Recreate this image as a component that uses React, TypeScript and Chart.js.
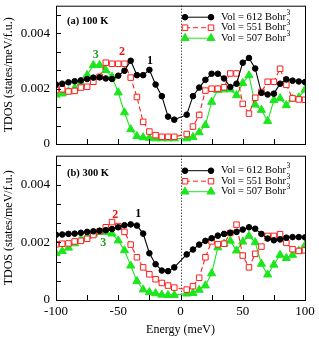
import React, { useEffect, useRef } from 'react';
import { Chart, registerables } from 'chart.js';

Chart.register(...registerables);

const FONT = '"Liberation Serif", "Times New Roman", Times, serif';

// ---- data ----
const energies = [
  -100, -95, -90, -85, -80, -75, -70, -65, -60, -55, -50, -45, -40, -35, -30, -25, -20, -15, -10, -5,
  5, 10, 15, 20, 25, 30, 35, 40, 45, 50, 55, 60, 65, 70, 75, 80, 85, 90, 95, 100,
];

// (a) 100 K
const tdos100K_612 = [
  0.00215, 0.00218, 0.00223, 0.00227, 0.0023, 0.00235, 0.0024, 0.00241, 0.00237, 0.00235,
  0.00247, 0.00265, 0.00301, 0.00249, 0.00249, 0.00268, 0.00215, 0.00173, 0.00099, 0.00088,
  0.00106, 0.00173, 0.00204, 0.00232, 0.00254, 0.00254, 0.00237, 0.00206, 0.00218, 0.00294,
  0.00311, 0.00273, 0.00185, 0.00179, 0.00182, 0.00218, 0.00234, 0.00229, 0.00226, 0.00224,
];
const tdos100K_551 = [
  0.00195, 0.00198, 0.0019, 0.00192, 0.00204, 0.00207, 0.00225, 0.00243, 0.00294, 0.0029,
  0.0029, 0.0029, 0.0024, 0.0017, 0.0008, 0.00045, 0.00032, 0.00026, 0.00026, 0.00026,
  0.00036, 0.00063, 0.00105, 0.00193, 0.002, 0.002, 0.00205, 0.00255, 0.00255, 0.00145,
  0.0011, 0.00167, 0.00188, 0.00225, 0.00225, 0.00272, 0.00214, 0.00165, 0.00161, 0.0016,
];
const tdos100K_507 = [
  0.00178, 0.00182, 0.0019, 0.00202, 0.0022, 0.00249, 0.00285, 0.00285, 0.00267, 0.00243,
  0.00186, 0.00114, 0.00053, 0.00028, 0.00024, 0.00022, 0.0002, 0.0002, 0.0002, 0.0002,
  0.0002, 0.00025, 0.00042, 0.00068, 0.00152, 0.00195, 0.00197, 0.00197, 0.00176, 0.0022,
  0.00248, 0.00142, 0.00123, 0.00083, 0.00158, 0.00165, 0.0014, 0.00163, 0.00168, 0.00196,
];

// (b) 300 K
const tdos300K_612 = [
  0.00226, 0.00227, 0.00229, 0.0023, 0.00233, 0.00236, 0.00238, 0.0024, 0.00242, 0.00246,
  0.00252, 0.00259, 0.00262, 0.00258, 0.0023, 0.00162, 0.00124, 0.00102, 0.001, 0.00113,
  0.00158, 0.00175, 0.00192, 0.00205, 0.00214, 0.00223, 0.00229, 0.00233, 0.00236, 0.00244,
  0.00252, 0.00247, 0.00229, 0.00213, 0.00207, 0.0021, 0.00216, 0.00218, 0.00218, 0.00217,
];
const tdos300K_551 = [
  0.00193, 0.00195, 0.00196, 0.00203, 0.00205, 0.00212, 0.00225, 0.00238, 0.00252, 0.0027,
  0.00256, 0.00236, 0.00192, 0.00148, 0.00113, 0.00089, 0.00072, 0.00059, 0.0005, 0.00043,
  0.00036, 0.00048, 0.00077, 0.00148, 0.00203, 0.00193, 0.00195, 0.00232, 0.00261, 0.00154,
  0.00113, 0.0016, 0.00185, 0.00222, 0.00222, 0.00228, 0.00198, 0.00176, 0.0017, 0.00172,
];
const tdos300K_507 = [
  0.00162, 0.00169, 0.00181, 0.00196, 0.0021, 0.00221, 0.00229, 0.00235, 0.00235, 0.0023,
  0.00206, 0.00172, 0.00119, 0.00065, 0.00036, 0.00027, 0.00023, 0.00018, 0.00017, 0.00017,
  0.00022, 0.00024, 0.00035, 0.0005, 0.00092, 0.00182, 0.00195, 0.00205, 0.00171, 0.00202,
  0.00222, 0.002, 0.00125, 0.00088, 0.00122, 0.00156, 0.00145, 0.00156, 0.0017, 0.00189,
];

const seriesLabels = ['Vol = 612 Bohr', 'Vol = 551 Bohr', 'Vol = 507 Bohr'];
const seriesSup = ['3', '3', '3'];

// tick marks (inward) and labelled ticks
const xTickMarks = [-100, -75, -50, -25, 0, 25, 50, 75, 100];
const yTickMarks = [0, 0.0006667, 0.0013333, 0.002, 0.0026667, 0.0033333, 0.004, 0.0046667];
const xLabelStep = 50;
const yLabelStep = 0.002;

// curve number annotations (text, energy, tdos)
const numTextA = ['3', '2', '1'];
const numXA = [-68, -47, -24.5];
const numYA = [0.00321, 0.00332, 0.003];
const numTextB = ['2', '1', '3'];
const numXB = [-52.5, -34, -62];
const numYB = [0.00296, 0.003, 0.00198];

// ---- styles ----
const styles = [
  { color: '#000000', fill: '#000000', pointStyle: 'circle', radius: 2.8, dash: [] as number[] },
  { color: '#ff1f1f', fill: '#ffffff', pointStyle: 'rect', radius: 3.9, dash: [5, 3] },
  { color: '#1ee61e', fill: '#1ee61e', pointStyle: 'triangle', radius: 4.7, dash: [] as number[] },
];
const numColors = ['#000000', '#ee1111', '#22a022'];

type Panel = {
  title: string;
  series: number[][];
  numText: string[];
  numX: number[];
  numY: number[];
  numColorIdx: number[];
  showX: boolean;
  height: number;
  padTop: number;
  xAxisH: number;
  legendRows: number[];
  titleDy: number;
};

function drawMarker(ctx: CanvasRenderingContext2D, s: any, x: number, y: number) {
  ctx.save();
  ctx.setLineDash([]);
  ctx.lineWidth = 1;
  ctx.strokeStyle = s.color;
  ctx.fillStyle = s.fill;
  ctx.beginPath();
  const r = s.radius;
  if (s.pointStyle === 'circle') {
    ctx.arc(x, y, r, 0, Math.PI * 2);
  } else if (s.pointStyle === 'rect') {
    const h = r * Math.SQRT1_2;
    ctx.rect(x - h, y - h, 2 * h, 2 * h);
  } else {
    ctx.moveTo(x, y - r);
    ctx.lineTo(x - r * 0.866, y + r * 0.5);
    ctx.lineTo(x + r * 0.866, y + r * 0.5);
    ctx.closePath();
  }
  ctx.fill();
  ctx.stroke();
  ctx.restore();
}

function makeDecor(p: Panel) {
  return {
    id: 'decor',
    beforeDatasetsDraw(chart: any) {
      const { ctx, chartArea: a, scales } = chart;
      const x0 = Math.round(scales.x.getPixelForValue(0)) + 0.5;
      ctx.save();
      ctx.strokeStyle = '#000';
      ctx.lineWidth = 1;
      ctx.setLineDash([1, 2]);
      ctx.beginPath();
      ctx.moveTo(x0, a.top);
      ctx.lineTo(x0, a.bottom);
      ctx.stroke();
      ctx.restore();
    },
    afterDraw(chart: any) {
      const { ctx, chartArea: a, scales } = chart;
      ctx.save();
      // frame
      ctx.strokeStyle = '#000';
      ctx.lineWidth = 1;
      ctx.setLineDash([]);
      ctx.strokeRect(a.left + 0.5, a.top + 0.5, a.right - a.left, a.bottom - a.top);
      // inward ticks
      ctx.beginPath();
      xTickMarks.forEach((v) => {
        const px = Math.round(scales.x.getPixelForValue(v)) + 0.5;
        ctx.moveTo(px, a.bottom);
        ctx.lineTo(px, a.bottom - 5);
      });
      yTickMarks.forEach((v) => {
        const py = Math.round(scales.y.getPixelForValue(v)) + 0.5;
        ctx.moveTo(a.left, py);
        ctx.lineTo(a.left + 5, py);
      });
      ctx.stroke();
      // panel title
      ctx.fillStyle = '#000';
      ctx.font = 'bold 10.5px ' + FONT;
      ctx.textAlign = 'left';
      ctx.textBaseline = 'middle';
      ctx.fillText(p.title, a.left + 11, a.top + p.titleDy);
      // curve numbers
      ctx.font = 'bold 12px ' + FONT;
      ctx.textAlign = 'center';
      p.numText.forEach((t, i) => {
        ctx.fillStyle = numColors[p.numColorIdx[i]];
        ctx.fillText(t, scales.x.getPixelForValue(p.numX[i]), scales.y.getPixelForValue(p.numY[i]));
      });
      // legend
      const lx1 = a.left + 129;
      const lx2 = a.left + 155;
      const tx = a.left + 165;
      chart.data.datasets.forEach((ds: any, i: number) => {
        const s = styles[i];
        const y = a.top + p.legendRows[i];
        ctx.save();
        ctx.strokeStyle = s.color;
        ctx.lineWidth = 1;
        ctx.setLineDash(s.dash);
        ctx.beginPath();
        ctx.moveTo(lx1, y);
        ctx.lineTo(lx2, y);
        ctx.stroke();
        ctx.restore();
        drawMarker(ctx, s, lx1, y);
        drawMarker(ctx, s, lx2, y);
        ctx.fillStyle = '#000';
        ctx.textAlign = 'left';
        ctx.textBaseline = 'middle';
        ctx.font = '10.5px ' + FONT;
        ctx.fillText(ds.label, tx, y);
        const w = ctx.measureText(ds.label).width;
        ctx.font = '7.5px ' + FONT;
        ctx.fillText(seriesSup[i], tx + w + 0.5, y - 4.5);
      });
      ctx.restore();
    },
  };
}

function buildConfig(p: Panel): any {
  const datasets = seriesLabels.map((lab, i) => ({
    label: lab,
    data: energies.map((e, j) => ({ x: e, y: p.series[i][j] })),
    borderColor: styles[i].color,
    backgroundColor: styles[i].fill,
    borderWidth: 1.1,
    borderDash: styles[i].dash,
    pointStyle: styles[i].pointStyle,
    pointRadius: styles[i].radius,
    pointBorderWidth: 1,
    pointBorderColor: styles[i].color,
    pointBackgroundColor: styles[i].fill,
    tension: 0,
    fill: false,
    clip: 0,
  }));
  return {
    type: 'line',
    data: { datasets },
    options: {
      animation: false,
      responsive: false,
      maintainAspectRatio: false,
      devicePixelRatio: 1,
      layout: { padding: { top: p.padTop, right: 14, bottom: 0, left: 0 } },
      plugins: { legend: { display: false }, tooltip: { enabled: false } },
      scales: {
        x: {
          type: 'linear',
          min: -100,
          max: 100,
          ticks: {
            stepSize: xLabelStep,
            display: p.showX,
            color: '#000',
            font: { family: FONT, size: 13 },
            padding: 4,
            maxRotation: 0,
            autoSkip: false,
            callback: (v: number) => String(v),
          },
          grid: { display: false, drawTicks: false },
          border: { display: false },
          title: {
            display: p.showX,
            text: 'Energy (meV)',
            color: '#000',
            font: { family: FONT, size: 12 },
            padding: { top: 0, bottom: 0 },
          },
          afterFit: (s: any) => {
            s.height = p.xAxisH;
            s.paddingLeft = 0;
            s.paddingRight = 0;
          },
        },
        y: {
          type: 'linear',
          min: 0,
          max: 0.005,
          ticks: {
            stepSize: yLabelStep,
            includeBounds: false,
            color: '#000',
            font: { family: FONT, size: 13 },
            padding: 6,
            callback: (v: number) => (Math.abs(v) < 1e-9 ? '0' : Number(v).toFixed(3)),
          },
          grid: { display: false, drawTicks: false },
          border: { display: false },
          title: {
            display: true,
            text: 'TDOS (states/meV/f.u.)',
            color: '#000',
            font: { family: FONT, size: 12 },
            padding: { top: 2, bottom: 0 },
          },
          afterFit: (s: any) => {
            s.width = 56;
            s.paddingTop = 0;
            s.paddingBottom = 0;
          },
        },
      },
    },
    plugins: [makeDecor(p)],
  };
}

const panelA: Panel = {
  title: '(a) 100 K',
  series: [tdos100K_612, tdos100K_551, tdos100K_507],
  numText: numTextA,
  numX: numXA,
  numY: numYA,
  numColorIdx: [2, 1, 0],
  showX: false,
  height: 150,
  padTop: 2,
  xAxisH: 6,
  legendRows: [11.5, 22, 32.5],
  titleDy: 15.5,
};

const panelB: Panel = {
  title: '(b) 300 K',
  series: [tdos300K_612, tdos300K_551, tdos300K_507],
  numText: numTextB,
  numX: numXB,
  numY: numYB,
  numColorIdx: [1, 0, 2],
  showX: true,
  height: 187,
  padTop: 3,
  xAxisH: 37,
  legendRows: [15, 25.5, 36],
  titleDy: 18,
};

export default function App() {
  const refA = useRef<HTMLCanvasElement | null>(null);
  const refB = useRef<HTMLCanvasElement | null>(null);

  useEffect(() => {
    const cA = new Chart(refA.current as HTMLCanvasElement, buildConfig(panelA));
    const cB = new Chart(refB.current as HTMLCanvasElement, buildConfig(panelB));
    return () => {
      cA.destroy();
      cB.destroy();
    };
  }, []);

  return (
    <div style={{ position: 'absolute', left: 0, top: 0, width: 319, height: 337, background: '#fff' }}>
      <canvas
        ref={refA}
        width={319}
        height={panelA.height}
        style={{ position: 'absolute', left: 0, top: 0, width: 319, height: panelA.height }}
      />
      <canvas
        ref={refB}
        width={319}
        height={panelB.height}
        style={{ position: 'absolute', left: 0, top: panelA.height, width: 319, height: panelB.height }}
      />
    </div>
  );
}
